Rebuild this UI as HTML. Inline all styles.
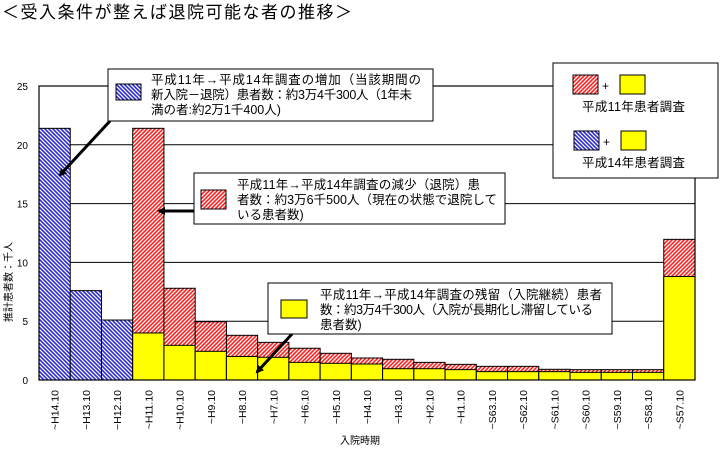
<!DOCTYPE html>
<html><head><meta charset="utf-8"><style>
body{margin:0;background:#fff;}
svg{display:block;font-family:"Liberation Sans","Noto Sans CJK JP",sans-serif;}
</style></head><body>
<svg id="c" width="722" height="450" xmlns="http://www.w3.org/2000/svg">
<defs>
<pattern id="hb" width="4" height="4" patternUnits="userSpaceOnUse"><rect width="4" height="4" fill="#fff"/><path d="M-1,-1 L5,5 M-1,3 L1,5 M3,-1 L5,1" stroke="#2a2ad0" stroke-width="1.6"/></pattern>
<pattern id="hr" width="4" height="4" patternUnits="userSpaceOnUse"><rect width="4" height="4" fill="#fff"/><path d="M-1,5 L5,-1 M-1,1 L1,-1 M3,5 L5,3" stroke="#ff2020" stroke-width="1.6"/></pattern>
<marker id="ah" markerWidth="8" markerHeight="8" refX="6" refY="4" orient="auto" markerUnits="userSpaceOnUse"><path d="M0,0 L8,4 L0,8 Z" fill="#000"/></marker>
</defs>
<text x="2" y="18" font-size="17" textLength="350">＜受入条件が整えば退院可能な者の推移＞</text>
<g id="grid"></g>
<g id="bars"></g>
<rect x="39" y="86" width="656" height="294" fill="none" stroke="#000" stroke-width="1.2"/>
<g id="yt" font-size="10"></g>
<g id="xt" font-size="10.5"></g>
<text transform="translate(12,282) rotate(-90)" font-size="10" text-anchor="middle">推計患者数：千人</text>
<text x="360" y="444" font-size="10" text-anchor="middle">入院時期</text>

<g>
<line x1="110" y1="121" x2="60" y2="175" stroke="#000" stroke-width="3" marker-end="url(#ah)"/>
<rect x="108" y="69" width="325" height="52" fill="#fff" stroke="#000"/>
<rect x="116" y="84" width="25" height="16" fill="url(#hb)" stroke="#000"/>
<text font-size="12.5"><tspan x="151" y="84" textLength="270">平成11年→平成14年調査の増加（当該期間の</tspan><tspan x="151" y="99" textLength="261">新入院－退院）患者数：約3万4千300人（1年未</tspan><tspan x="151" y="114">満の者:約2万1千400人)</tspan></text>
</g>
<g>
<line x1="194" y1="211" x2="159" y2="211" stroke="#000" stroke-width="3" marker-end="url(#ah)"/>
<rect x="194" y="173" width="311" height="51" fill="#fff" stroke="#000"/>
<rect x="201" y="190" width="25" height="19" fill="url(#hr)" stroke="#000"/>
<text font-size="12.5"><tspan x="237" y="189" textLength="243">平成11年→平成14年調査の減少（退院）患</tspan><tspan x="237" y="204" textLength="260">者数：約3万6千500人（現在の状態で退院して</tspan><tspan x="237" y="219">いる患者数)</tspan></text>
</g>
<g>
<line x1="292" y1="334" x2="257" y2="372" stroke="#000" stroke-width="3" marker-end="url(#ah)"/>
<rect x="268" y="283" width="344" height="51" fill="#fff" stroke="#000"/>
<rect x="281" y="300" width="26" height="18" fill="#ffff00" stroke="#000"/>
<text font-size="12.5"><tspan x="320" y="299" textLength="282">平成11年→平成14年調査の残留（入院継続）患者</tspan><tspan x="320" y="314" textLength="273">数：約3万4千300人（入院が長期化し滞留している</tspan><tspan x="320" y="329">患者数)</tspan></text>
</g>
<g>
<rect x="553" y="63" width="165" height="115" fill="#fff" stroke="#000"/>
<rect x="573" y="75" width="25" height="19" fill="url(#hr)" stroke="#000"/>
<text x="602" y="90" font-size="12">+</text>
<rect x="620" y="75" width="25" height="19" fill="#ffff00" stroke="#000"/>
<text x="582" y="111" font-size="12.5" textLength="103">平成11年患者調査</text>
<rect x="574" y="131" width="25" height="19" fill="url(#hb)" stroke="#000"/>
<text x="603" y="146" font-size="12">+</text>
<rect x="621" y="131" width="25" height="19" fill="#ffff00" stroke="#000"/>
<text x="582" y="167" font-size="12.5" textLength="103">平成14年患者調査</text>
</g>
</svg>
<script>
const categories=["~H14.10","~H13.10","~H12.10","~H11.10","~H10.10","~H9.10","~H8.10","~H7.10","~H6.10","~H5.10","~H4.10","~H3.10","~H2.10","~H1.10","~S63.10","~S62.10","~S61.10","~S60.10","~S59.10","~S58.10","~S57.10"];
const blueValues=[21.4,7.6,5.1,0,0,0,0,0,0,0,0,0,0,0,0,0,0,0,0,0,0];
const h11Totals=[0,0,0,21.4,7.8,4.95,3.8,3.2,2.7,2.27,1.87,1.76,1.5,1.33,1.16,1.16,0.91,0.88,0.88,0.88,11.96];
const yellowValues=[0,0,0,4.0,2.95,2.44,2.0,1.93,1.5,1.42,1.36,0.96,0.96,0.88,0.71,0.71,0.71,0.65,0.65,0.65,8.8];
const yTicks=[0,5,10,15,20,25];
const NS="http://www.w3.org/2000/svg";
const X0=39,X1=695,Y0=380,Y1=86,YMAX=25;
const bw=(X1-X0)/categories.length;
const y=v=>Y0-(v/YMAX)*(Y0-Y1);
const x=i=>X0+i*bw;
function mk(t,a,p){const e=document.createElementNS(NS,t);for(const k in a)e.setAttribute(k,a[k]);p.appendChild(e);return e;}
const grid=document.getElementById('grid'),bars=document.getElementById('bars'),yt=document.getElementById('yt'),xt=document.getElementById('xt');
yTicks.forEach(v=>{
  if(v>0&&v<YMAX){const l=mk('line',{x1:X0,x2:X1,y1:y(v),y2:y(v),stroke:'#000'},grid);
  
  }
  const t=mk('text',{x:28,y:y(v)+4,'text-anchor':'end'},yt);t.textContent=v;
  
  
});
categories.forEach((c,i)=>{
  if(blueValues[i]>0){const r=mk('rect',{x:x(i),y:y(blueValues[i]),width:bw,height:Y0-y(blueValues[i]),fill:'url(#hb)',stroke:'#000','stroke-width':1},bars);
  
  }
  if(h11Totals[i]>0){const r=mk('rect',{x:x(i),y:y(h11Totals[i]),width:bw,height:Y0-y(h11Totals[i]),fill:'url(#hr)',stroke:'#000','stroke-width':1},bars);
  
  }
  if(yellowValues[i]>0){const r=mk('rect',{x:x(i),y:y(yellowValues[i]),width:bw,height:Y0-y(yellowValues[i]),fill:'#ffff00',stroke:'#000','stroke-width':1},bars);
  
  }
  const cx=x(i)+bw/2+4;
  const t=mk('text',{transform:`translate(${cx},390) rotate(-90)`,'text-anchor':'end'},xt);t.textContent=c;
  
  
});
</script>
</body></html>
